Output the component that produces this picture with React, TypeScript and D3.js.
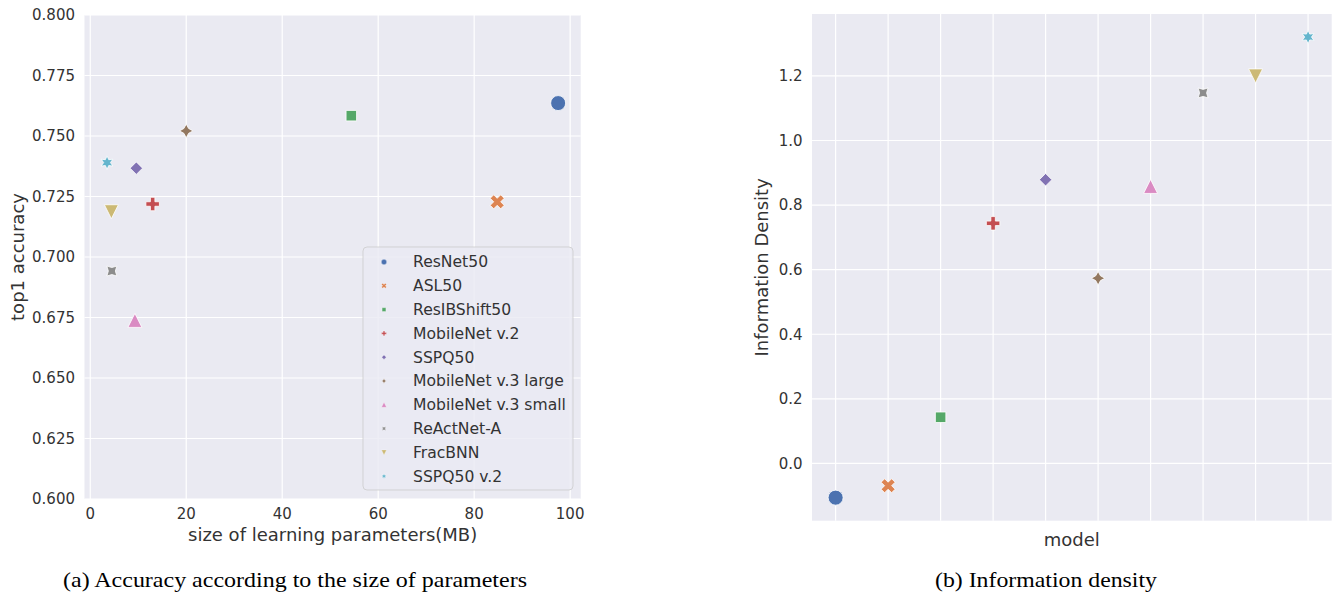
import React from 'react';
import * as d3 from 'd3';

// figure size
const W = 1341;
const H = 594;

// data
const models = [
  'ResNet50',
  'ASL50',
  'ResIBShift50',
  'MobileNet v.2',
  'SSPQ50',
  'MobileNet v.3 large',
  'MobileNet v.3 small',
  'ReActNet-A',
  'FracBNN',
  'SSPQ50 v.2'
];
const paramSizeMB = [97.5, 84.8, 54.4, 13.0, 9.6, 20.0, 9.3, 4.5, 4.4, 3.5];
const top1Accuracy = [0.7636, 0.7228, 0.7584, 0.7219, 0.7367, 0.7521, 0.6738, 0.6942, 0.7187, 0.739];
const infoDensity = [-0.106, -0.069, 0.143, 0.7435, 0.8786, 0.5735, 0.8578, 1.1474, 1.2, 1.3204];

const accTicks = [0.6, 0.625, 0.65, 0.675, 0.7, 0.725, 0.75, 0.775, 0.8];
const sizeTicks = [0, 20, 40, 60, 80, 100];
const densityTicks = [0.0, 0.2, 0.4, 0.6, 0.8, 1.0, 1.2];

// seaborn "deep" palette + default marker cycle
const colors = ['#4C72B0', '#DD8452', '#55A868', '#C44E52', '#8172B3', '#937860', '#DA8BC3', '#8C8C8C', '#CCB974', '#64B5CD'];
const markers = ['o', 'X', 's', 'P', 'D', 'star4', '^', 'star4r', 'v', 'star6'];

const markerSize: Record<string, number> = {
  o: 15, X: 14, s: 10.5, P: 13.5, D: 12.5, star4: 13.5, '^': 14, star4r: 14, v: 14, star6: 13.5
};

const BG = '#EAEAF2';
const TXT = '#333333';
const FONT = 'DejaVu Sans, sans-serif';
const SERIF = 'Liberation Serif, Times New Roman, serif';

// matplotlib-like marker paths
function markerD(kind: string, size: number): string {
  const h = size / 2;
  const poly = (pts: number[][]) => 'M' + pts.map(p => p[0].toFixed(2) + ',' + p[1].toFixed(2)).join('L') + 'Z';
  const star = (n: number, rot: number) => {
    const pts: number[][] = [];
    for (let i = 0; i < 2 * n; i++) {
      const a = -Math.PI / 2 + (i * Math.PI) / n + rot;
      const r = i % 2 ? h * 0.5 : h;
      pts.push([r * Math.cos(a), r * Math.sin(a)]);
    }
    return poly(pts);
  };
  switch (kind) {
    case 'o': {
      const p = d3.path();
      p.arc(0, 0, h, 0, 2 * Math.PI);
      p.closePath();
      return p.toString();
    }
    case 's':
      return poly([[-h, -h], [h, -h], [h, h], [-h, h]]);
    case 'D':
      return poly([[0, -h], [h, 0], [0, h], [-h, 0]]);
    case '^':
      return poly([[0, -h], [h, h], [-h, h]]);
    case 'v':
      return poly([[0, h], [h, -h], [-h, -h]]);
    case 'X': {
      const u = size / 4;
      return poly([[-1, -2], [0, -1], [1, -2], [2, -1], [1, 0], [2, 1], [1, 2], [0, 1], [-1, 2], [-2, 1], [-1, 0], [-2, -1]].map(([a, b]) => [a * u, b * u]));
    }
    case 'P': {
      const u = size / 6;
      return poly([[-1, -3], [1, -3], [1, -1], [3, -1], [3, 1], [1, 1], [1, 3], [-1, 3], [-1, 1], [-3, 1], [-3, -1], [-1, -1]].map(([a, b]) => [a * u, b * u]));
    }
    case 'star4':
      return star(4, 0);
    case 'star4r':
      return star(4, Math.PI / 4);
    case 'star6':
      return star(6, 0);
    default:
      return '';
  }
}

// matplotlib default 5% margins
function padded(vals: number[]): [number, number] {
  const [lo, hi] = d3.extent(vals) as [number, number];
  const m = (hi - lo) * 0.05;
  return [lo - m, hi + m];
}

// panel (a) layout
const A = { left: 84.5, right: 580.7, top: 15, bottom: 499 };
// panel (b) layout
const B = { left: 812, right: 1331.7, top: 14, bottom: 520.7 };

export default function App() {
  const xA = d3.scaleLinear().domain(padded(paramSizeMB)).range([A.left, A.right]);
  const yA = d3.scaleLinear().domain([0.6, 0.8]).range([A.bottom, A.top]);

  const idx = models.map((_, i) => i);
  const xB = d3.scaleLinear().domain(padded(idx)).range([B.left, B.right]);
  const yB = d3.scaleLinear().domain(padded(infoDensity)).range([B.bottom, B.top]);

  const fmtA = d3.format('.3f');
  const fmtB = d3.format('.1f');

  const legend = { x: 363, y: 247, w: 210, h: 243, row0: 262, step: 23.8 };

  return (
    <svg width={W} height={H} style={{ position: 'absolute', left: 0, top: 0, background: '#fff' }} fontFamily={FONT}>
      {/* ---------- panel (a) ---------- */}
      <rect x={A.left} y={A.top} width={A.right - A.left} height={A.bottom - A.top} fill={BG} />
      {accTicks.map(t => (
        <line key={'ga' + t} x1={A.left} x2={A.right} y1={yA(t)} y2={yA(t)} stroke="#fff" strokeWidth={1.2} />
      ))}
      {sizeTicks.map(t => (
        <line key={'gx' + t} x1={xA(t)} x2={xA(t)} y1={A.top} y2={A.bottom} stroke="#fff" strokeWidth={1.2} />
      ))}
      {accTicks.map(t => (
        <text key={'ta' + t} x={A.left - 9.5} y={yA(t)} dy="0.35em" textAnchor="end" fontSize={15} fill={TXT}>
          {fmtA(t)}
        </text>
      ))}
      {sizeTicks.map(t => (
        <text key={'tx' + t} x={xA(t)} y={514} dy="0.35em" textAnchor="middle" fontSize={15} fill={TXT}>
          {t}
        </text>
      ))}
      <text x={(A.left + A.right) / 2} y={535} dy="0.35em" textAnchor="middle" fontSize={18} fill={TXT}>
        size of learning parameters(MB)
      </text>
      <text transform={`translate(18,${(A.top + A.bottom) / 2}) rotate(-90)`} dy="0.35em" textAnchor="middle" fontSize={18} fill={TXT}>
        top1 accuracy
      </text>
      {models.map((m, i) => (
        <path
          key={'pa' + m}
          d={markerD(markers[i], markerSize[markers[i]])}
          transform={`translate(${xA(paramSizeMB[i])},${yA(top1Accuracy[i])})`}
          fill={colors[i]}
          stroke="#fff"
          strokeWidth={0.8}
        />
      ))}
      {/* legend */}
      <rect x={legend.x} y={legend.y} width={legend.w} height={legend.h} rx={4} fill={BG} fillOpacity={0.8} stroke="#cccccc" strokeOpacity={0.8} />
      {models.map((m, i) => (
        <g key={'lg' + m} transform={`translate(0,${legend.row0 + i * legend.step})`}>
          <path d={markerD(markers[i], markerSize[markers[i]] * 0.36)} transform="translate(384,0)" fill={colors[i]} stroke="#fff" strokeWidth={0.3} />
          <text x={413} y={0} dy="0.35em" fontSize={15.6} fill={TXT}>
            {m}
          </text>
        </g>
      ))}

      {/* ---------- panel (b) ---------- */}
      <rect x={B.left} y={B.top} width={B.right - B.left} height={B.bottom - B.top} fill={BG} />
      {densityTicks.map(t => (
        <line key={'gb' + t} x1={B.left} x2={B.right} y1={yB(t)} y2={yB(t)} stroke="#fff" strokeWidth={1.2} />
      ))}
      {idx.map(i => (
        <line key={'gbx' + i} x1={xB(i)} x2={xB(i)} y1={B.top} y2={B.bottom} stroke="#fff" strokeWidth={1.2} />
      ))}
      {densityTicks.map(t => (
        <text key={'tb' + t} x={B.left - 9.5} y={yB(t)} dy="0.35em" textAnchor="end" fontSize={15} fill={TXT}>
          {fmtB(t)}
        </text>
      ))}
      <text x={(B.left + B.right) / 2} y={540} dy="0.35em" textAnchor="middle" fontSize={18} fill={TXT}>
        model
      </text>
      <text transform={`translate(762,${(B.top + B.bottom) / 2}) rotate(-90)`} dy="0.35em" textAnchor="middle" fontSize={18} fill={TXT}>
        Information Density
      </text>
      {models.map((m, i) => (
        <path
          key={'pb' + m}
          d={markerD(markers[i], markerSize[markers[i]])}
          transform={`translate(${xB(i)},${yB(infoDensity[i])})`}
          fill={colors[i]}
          stroke="#fff"
          strokeWidth={0.8}
        />
      ))}

      {/* captions */}
      <text x={63} y={587} fontFamily={SERIF} fontSize={22} fill="#000" textLength={464} lengthAdjust="spacingAndGlyphs">
        (a) Accuracy according to the size of parameters
      </text>
      <text x={935} y={587} fontFamily={SERIF} fontSize={22} fill="#000" textLength={222} lengthAdjust="spacingAndGlyphs">
        (b) Information density
      </text>
    </svg>
  );
}
